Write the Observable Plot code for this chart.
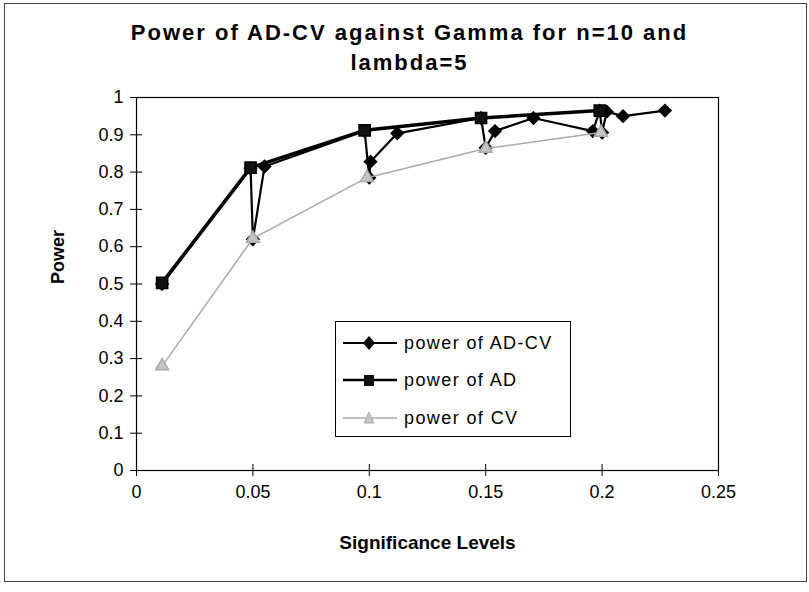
<!DOCTYPE html>
<html>
<head>
<meta charset="utf-8">
<script src="https://cdn.jsdelivr.net/npm/d3@7"></script>
<script src="https://cdn.jsdelivr.net/npm/@observablehq/plot@0.6"></script>
<style>
  html, body { margin: 0; padding: 0; background: #fff; }
  #wrap { position: relative; width: 809px; height: 592px; font-family: "Liberation Sans", Arial, sans-serif; }
  #border { position: absolute; left: 4px; top: 3px; width: 803px; height: 579px; border: 1px solid #444; box-sizing: border-box; }
  #title { position: absolute; left: 0; width: 819px; top: 18px; text-align: center; font-weight: bold; font-size: 22px; letter-spacing: 2px; line-height: 30px; color: #000; }
  #chart { position: absolute; left: 0; top: 0; }
  #legend { position: absolute; left: 335px; top: 321px; width: 236px; height: 116px; border: 1px solid #000; box-sizing: border-box; background: #fff; }
  .item { position: absolute; left: 6px; height: 24px; display: flex; align-items: center; font-size: 18px; letter-spacing: 1.4px; color: #000; }
  .item svg { margin-right: 6px; }
</style>
</head>
<body>
<div id="wrap">
  <div id="border"></div>
  <div id="chart"></div>
  <div id="title">Power of AD-CV against Gamma for n=10 and<br>lambda=5</div>
  <div id="legend"></div>
</div>
<script>
// ---- data ----
const seriesNames = ["power of AD-CV", "power of AD", "power of CV"];

const adcvX = [0.011, 0.049, 0.050, 0.055, 0.098, 0.100, 0.1005, 0.112, 0.148, 0.150, 0.154, 0.1705, 0.196, 0.199, 0.200, 0.202, 0.209, 0.227];
const adcvY = [0.50, 0.81, 0.62, 0.815, 0.91, 0.785, 0.828, 0.904, 0.945, 0.865, 0.91, 0.945, 0.91, 0.965, 0.906, 0.962, 0.950, 0.965];

const adX = [0.011, 0.049, 0.098, 0.148, 0.199];
const adY = [0.503, 0.812, 0.912, 0.945, 0.965];

const cvX = [0.011, 0.050, 0.099, 0.150, 0.1995];
const cvY = [0.280, 0.622, 0.785, 0.863, 0.906];

const xTicks = [0, 0.05, 0.1, 0.15, 0.2, 0.25];
const xTickLabels = ["0", "0.05", "0.1", "0.15", "0.2", "0.25"];
const yTicks = [0, 0.1, 0.2, 0.3, 0.4, 0.5, 0.6, 0.7, 0.8, 0.9, 1];
const yTickLabels = ["0", "0.1", "0.2", "0.3", "0.4", "0.5", "0.6", "0.7", "0.8", "0.9", "1"];

const xTitle = "Significance Levels";
const yTitle = "Power";

// ---- build tables ----
const adcv = adcvX.map((x, i) => ({x, y: adcvY[i]}));
const ad = adX.map((x, i) => ({x, y: adY[i]}));
const cv = cvX.map((x, i) => ({x, y: cvY[i]}));

const font = "'Liberation Sans', Arial, sans-serif";

const chart = Plot.plot({
  width: 809,
  height: 592,
  marginLeft: 136,
  marginRight: 91,
  marginTop: 97,
  marginBottom: 122,
  style: {fontFamily: font, fontSize: "18px", color: "#000", background: "transparent", overflow: "visible"},
  x: {domain: [0, 0.25]},
  y: {domain: [0, 1]},
  marks: [
    Plot.frame({stroke: "#000", strokeWidth: 1.2}),
    Plot.axisX({ticks: xTicks, tickFormat: d => xTickLabels[xTicks.indexOf(d)], tickSize: 6, tickPadding: 9, label: null, fontSize: 18, style: "letter-spacing:1px"}),
    Plot.axisX({ticks: xTicks, tickFormat: () => "", tickSize: 6, dy: -6, label: null}),
    Plot.axisY({ticks: yTicks, tickFormat: d => yTickLabels[yTicks.indexOf(d)], tickSize: 6, tickPadding: 7, label: null, fontSize: 18}),
    Plot.axisY({ticks: yTicks, tickFormat: () => "", tickSize: 6, dx: 6, label: null}),
    Plot.text([xTitle], {frameAnchor: "bottom", dy: 78, text: d => d, fontWeight: "bold", fontSize: 19, style: "letter-spacing:1.2px"}),
    Plot.text([yTitle], {frameAnchor: "left", dx: -78, text: d => d, rotate: -90, fontWeight: "bold", fontSize: 18}),
    // AD-CV
    Plot.line(adcv, {x: "x", y: "y", stroke: "#000", strokeWidth: 2.2}),
    Plot.dot(adcv, {x: "x", y: "y", symbol: "diamond2", r: 5.5, fill: "#000", stroke: "#000"}),
    // AD
    Plot.line(ad, {x: "x", y: "y", stroke: "#000", strokeWidth: 3.5}),
    Plot.dot(ad, {x: "x", y: "y", symbol: "square", r: 6.3, fill: "#111", stroke: "#000"}),
    // CV
    Plot.line(cv, {x: "x", y: "y", stroke: "#aaa", strokeWidth: 1.5}),
    Plot.dot(cv, {x: "x", y: "y", symbol: "triangle", r: 4.8, fill: "#c4c4c4", stroke: "#aaa"})
  ]
});
document.getElementById("chart").appendChild(chart);

// ---- legend ----
const legend = document.getElementById("legend");
const legendStyles = [
  {stroke: "#000", width: 2, marker: () => `<path d="M27,5 L33,12 L27,19 L21,12 Z" fill="#000"/>`},
  {stroke: "#000", width: 2.5, marker: () => `<rect x="22" y="7" width="10" height="11" fill="#111"/>`},
  {stroke: "#aaa", width: 1.3, marker: () => `<path d="M27,6 L32,17 L22,17 Z" fill="#c4c4c4" stroke="#aaa"/>`}
];
const tops = [9, 46, 84];
seriesNames.forEach((name, i) => {
  const st = legendStyles[i];
  const div = document.createElement("div");
  div.className = "item";
  div.style.top = tops[i] + "px";
  div.innerHTML = `<svg width="56" height="24"><line x1="1" x2="55" y1="12" y2="12" stroke="${st.stroke}" stroke-width="${st.width}"/>${st.marker()}</svg><span>${name}</span>`;
  legend.appendChild(div);
});
</script>
</body>
</html>
